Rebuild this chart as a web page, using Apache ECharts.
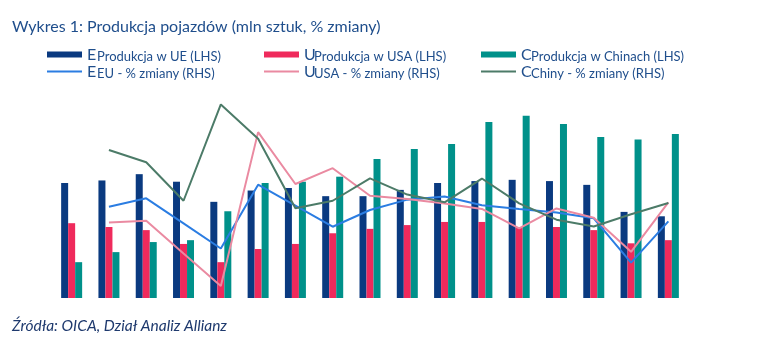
<!DOCTYPE html>
<html>
<head>
<meta charset="utf-8">
<script src="https://cdn.jsdelivr.net/npm/echarts@6/dist/echarts.min.js"></script>
<style>html,body{margin:0;padding:0;background:#fff}#c{width:778px;height:340px}</style>
</head>
<body>
<div id="c"></div>
<script>
const categories = ['2005','2006','2007','2008','2009','2010','2011','2012','2013','2014','2015','2016','2017','2018','2019','2020','2021'];
const prodEU    = [18.3,18.7,19.7,18.5,15.3,17.1,17.5,16.2,16.2,17.2,18.3,18.6,18.8,18.6,18.0,13.7,13.0];
const prodUSA   = [11.9,11.3,10.8,8.6,5.7,7.8,8.6,10.3,11.0,11.6,12.1,12.1,11.3,11.3,10.8,8.7,9.2];
const prodChina = [5.7,7.3,8.9,9.2,13.8,18.3,18.5,19.3,22.1,23.7,24.5,28.0,29.0,27.7,25.6,25.2,26.1];
const chgEU     = [null,1.5,5.3,-6.1,-17.5,11.5,2.0,-7.6,0.0,4.7,6.1,2.2,0.5,-1.1,-3.8,-23.9,-5.2];
const chgUSA    = [null,-5.7,-4.9,-19.8,-34.5,35.4,11.8,19.0,6.5,5.0,3.0,0.5,-8.4,0.7,-3.5,-19.0,3.5];
const chgChina  = [null,27.3,21.7,4.2,48.0,32.4,0.8,4.2,14.4,7.0,3.5,14.3,3.0,-4.4,-7.5,-1.9,3.2];

const names = ['Produkcja w UE (LHS)','Produkcja w USA (LHS)','Produkcja w Chinach (LHS)',
               'EU - % zmiany (RHS)','USA - % zmiany (RHS)','Chiny - % zmiany (RHS)'];
const letters = {};
letters[names[0]]='E'; letters[names[1]]='U'; letters[names[2]]='C';
letters[names[3]]='E'; letters[names[4]]='U'; letters[names[5]]='C';

const FONT = 'Lato';
const legendText = {
  color:'#1f4e8c', fontFamily:FONT,
  rich:{
    a:{fontSize:16, color:'#1f4e8c', fontFamily:FONT, width:10, lineHeight:17, verticalAlign:'bottom'},
    b:{fontSize:13, color:'#1f4e8c', fontFamily:FONT, width:167, lineHeight:17, verticalAlign:'bottom'}
  }
};
function legendCfg(data, top, h){
  return {
    data:data, top:top, left:47, orient:'horizontal', itemGap:0, icon:'rect',
    itemWidth:35, itemHeight:h, padding:0, selectedMode:false,
    formatter:function(n){return '{a|'+letters[n]+'}{b|'+n+'}';},
    textStyle:legendText
  };
}

const colors = {eu:'#0a3a80', usa:'#ef2a5c', cn:'#00918a', leu:'#2b7de2', lusa:'#ea8aa1', lcn:'#4c7b68'};

const chart = echarts.init(document.getElementById('c'));
chart.setOption({
  animation:false,
  title:[
    {text:'Wykres 1: Produkcja pojazdów (mln sztuk, % zmiany)', left:7, top:14,
     textStyle:{fontFamily:FONT, fontSize:16, fontWeight:'normal', color:'#1f4e8c'}},
    {text:'Źródła: OICA, Dział Analiz Allianz', left:7, top:313,
     textStyle:{fontFamily:FONT, fontSize:15.5, fontStyle:'italic', fontWeight:'normal', color:'#1f3a6e'}}
  ],
  legend:[ legendCfg(names.slice(0,3), 47, 6), legendCfg(names.slice(3,6), 64, 2) ],
  grid:{left:53, right:91, top:78, bottom:42},
  xAxis:{type:'category', data:categories, show:false},
  yAxis:[
    {type:'value', min:0, max:35, show:false, splitLine:{show:false}},
    {type:'value', min:-40, max:60, show:false, splitLine:{show:false}}
  ],
  series:[
    {name:names[0], type:'bar', data:prodEU, barWidth:7, barGap:'0%', itemStyle:{color:colors.eu}},
    {name:names[1], type:'bar', data:prodUSA, barWidth:7, barGap:'0%', itemStyle:{color:colors.usa}},
    {name:names[2], type:'bar', data:prodChina, barWidth:7, barGap:'0%', itemStyle:{color:colors.cn}},
    {name:names[3], type:'line', yAxisIndex:1, data:chgEU, symbol:'none', lineStyle:{color:colors.leu, width:2}, itemStyle:{color:colors.leu}},
    {name:names[4], type:'line', yAxisIndex:1, data:chgUSA, symbol:'none', lineStyle:{color:colors.lusa, width:2}, itemStyle:{color:colors.lusa}},
    {name:names[5], type:'line', yAxisIndex:1, data:chgChina, symbol:'none', lineStyle:{color:colors.lcn, width:2}, itemStyle:{color:colors.lcn}}
  ]
});
</script>
</body>
</html>
